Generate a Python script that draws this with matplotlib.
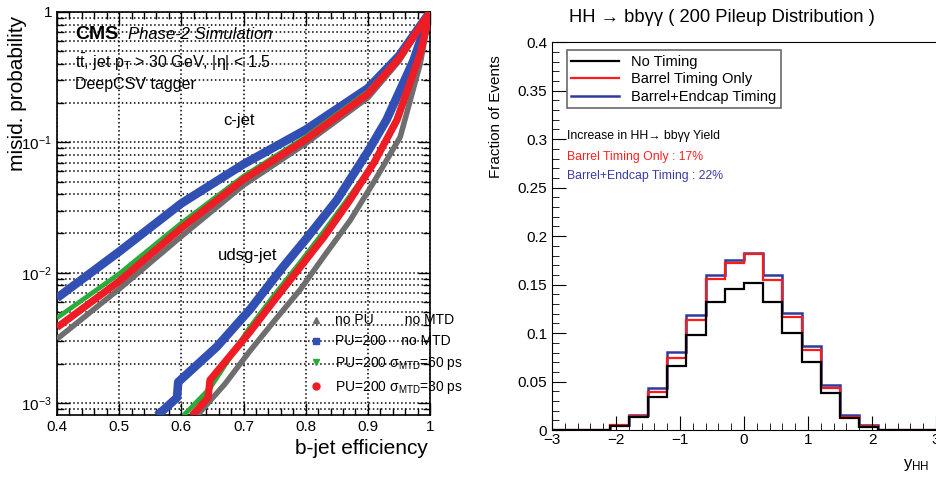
import matplotlib
matplotlib.use("Agg")
import matplotlib.pyplot as plt
from matplotlib.lines import Line2D
from matplotlib.ticker import FuncFormatter, MultipleLocator, LogLocator, NullFormatter
import numpy as np

# ---- left panel: misid probability vs b-jet efficiency ----
series_names = ["no PU", "PU=200", "PU=200 60ps", "PU=200 30ps"]
series_colors = ["#6e6e6e", "#3250b4", "#2aac3a", "#ee1c24"]

# c-jet curves
c_eff = {
    "no PU":       [0.40, 0.50, 0.60, 0.70, 0.80, 0.90, 0.95, 1.00],
    "PU=200":      [0.40, 0.50, 0.60, 0.70, 0.80, 0.90, 0.95, 1.00],
    "PU=200 60ps": [0.40, 0.50, 0.60, 0.70, 0.80, 0.90, 0.95, 1.00],
    "PU=200 30ps": [0.40, 0.50, 0.60, 0.70, 0.80, 0.90, 0.95, 1.00],
}
c_mis = {
    "no PU":       [0.0031, 0.0075, 0.019, 0.047, 0.098, 0.22, 0.42, 1.0],
    "PU=200":      [0.0064, 0.0145, 0.034, 0.068, 0.125, 0.26, 0.46, 1.0],
    "PU=200 60ps": [0.0045, 0.0098, 0.024, 0.055, 0.110, 0.245, 0.45, 1.0],
    "PU=200 30ps": [0.0038, 0.0086, 0.022, 0.052, 0.105, 0.235, 0.44, 1.0],
}

# udsg-jet curves
l_eff = {
    "no PU":       [0.625, 0.67, 0.71, 0.75, 0.791, 0.83, 0.871, 0.91, 0.952, 0.984, 1.00],
    "PU=200":      [0.561, 0.593, 0.595, 0.657, 0.71, 0.763, 0.80, 0.85, 0.90, 0.93, 0.973, 1.00],
    "PU=200 60ps": [0.603, 0.646, 0.71, 0.75, 0.791, 0.83, 0.866, 0.91, 0.945, 0.984, 1.00],
    "PU=200 30ps": [0.617, 0.643, 0.646, 0.71, 0.75, 0.791, 0.83, 0.871, 0.91, 0.947, 0.984, 1.00],
}
l_mis = {
    "no PU":       [0.0008, 0.0014, 0.0025, 0.0043, 0.0074, 0.0135, 0.025, 0.050, 0.11, 0.40, 1.0],
    "PU=200":      [0.0008, 0.0011, 0.00145, 0.0027, 0.0052, 0.011, 0.018, 0.036, 0.085, 0.149, 0.42, 1.0],
    "PU=200 60ps": [0.0008, 0.0013, 0.0038, 0.0068, 0.012, 0.021, 0.036, 0.070, 0.15, 0.48, 1.0],
    "PU=200 30ps": [0.0008, 0.0011, 0.0015, 0.0035, 0.0062, 0.011, 0.019, 0.036, 0.070, 0.149, 0.48, 1.0],
}
line_widths = [4.0, 6.2, 3.4, 5.2]

# ---- right panel: y_HH distribution ----
bin_edges = np.linspace(-3, 3, 21)
no_timing = [0, 0, 0, 0.004, 0.014, 0.034, 0.066, 0.098, 0.132, 0.145,
             0.152, 0.132, 0.0997, 0.0705, 0.038, 0.013, 0.003, 0, 0, 0]
barrel = [0, 0, 0, 0.005, 0.015, 0.0395, 0.0746, 0.114, 0.1557, 0.172,
          0.182, 0.155, 0.117, 0.0825, 0.043, 0.014, 0.004, 0, 0, 0]
barrel_endcap = [0, 0, 0, 0.005, 0.016, 0.0436, 0.0808, 0.119, 0.160, 0.175,
                 0.183, 0.160, 0.121, 0.0866, 0.047, 0.016, 0.005, 0, 0, 0]

plt.rcParams['font.family'] = ['Liberation Sans', 'DejaVu Sans']
plt.rcParams['mathtext.fontset'] = 'custom'
plt.rcParams['mathtext.rm'] = 'Liberation Sans'
plt.rcParams['mathtext.it'] = 'Liberation Sans:italic'
fig = plt.figure(figsize=(9.37, 4.79), dpi=100)

ax = fig.add_axes([0.0608, 0.1336, 0.3982, 0.8414])
for name, col, lw in zip(series_names, series_colors, line_widths):
    ax.plot(c_eff[name], c_mis[name], color=col, lw=lw, solid_capstyle='butt', zorder=3)
    ax.plot(l_eff[name], l_mis[name], color=col, lw=lw, solid_capstyle='butt', zorder=3)
ax.set_yscale('log')
ax.set_xlim(0.4, 1.0)
ax.set_ylim(0.00081, 1.0)
ax.xaxis.set_major_locator(MultipleLocator(0.1))
ax.xaxis.set_minor_locator(MultipleLocator(0.02))
ax.xaxis.set_major_formatter(FuncFormatter(lambda v, p: "%g" % round(v, 2)))
ax.yaxis.set_major_locator(LogLocator(base=10, numticks=10))
ax.yaxis.set_minor_locator(LogLocator(base=10, subs=np.arange(2, 10), numticks=20))
ax.yaxis.set_minor_formatter(NullFormatter())
ax.yaxis.set_major_formatter(FuncFormatter(
    lambda v, p: "1" if abs(v - 1) < 1e-9 else r"$10^{%d}$" % int(round(np.log10(v)))))
ax.tick_params(which='both', direction='in', top=True, right=True, labelsize=11)
ax.tick_params(which='major', length=9, width=1)
ax.tick_params(which='minor', length=5, width=1)
ax.xaxis.grid(True, which='major', ls=':', color='k', lw=1.1)
ax.yaxis.grid(True, which='both', ls=':', color='k', lw=1.1)
ax.set_axisbelow(True)
for s in ax.spines.values():
    s.set_linewidth(1.2)
ax.set_xlabel("b-jet efficiency", fontsize=15, loc='right')
ax.xaxis.set_label_coords(0.995, -0.06)
ax.set_ylabel("misid. probability", fontsize=15, loc='top')
ax.yaxis.set_label_coords(-0.08, 0.99)

ax.text(0.048, 0.945, "CMS", transform=ax.transAxes, fontsize=14, fontweight='bold', va='center')
ax.text(0.19, 0.945, "Phase-2 Simulation", transform=ax.transAxes, fontsize=12,
        style='italic', va='center')
ax.text(0.048, 0.875, "t$\\bar{\\rm t}$, jet p$_{\\rm T}$ > 30 GeV, |\u03b7| < 1.5",
        transform=ax.transAxes, fontsize=11.5, va='center')
ax.text(0.048, 0.82, "DeepCSV tagger", transform=ax.transAxes, fontsize=11.5, va='center')
ax.text(0.445, 0.73, "c-jet", transform=ax.transAxes, fontsize=12, va='center')
ax.text(0.43, 0.395, "udsg-jet", transform=ax.transAxes, fontsize=12, va='center')

markers = ['^', 's', 'v', 'o']
labels = ["no PU        no MTD", "PU=200    no MTD",
          "PU=200 \u03c3$_{\\rm MTD}$=60 ps", "PU=200 \u03c3$_{\\rm MTD}$=30 ps"]
handles = [Line2D([], [], ls='none', marker=m, color=c, markersize=5)
           for m, c in zip(markers, series_colors)]
leg = ax.legend(handles, labels, loc='upper left', bbox_to_anchor=(0.675, 0.252),
                frameon=False, fontsize=10, handletextpad=0.9, handlelength=1.0,
                labelspacing=0.5, borderaxespad=0, borderpad=0)
leg.set_zorder(5)

# right panel
ax2 = fig.add_axes([0.589, 0.102, 0.41, 0.810])
ax2.stairs(barrel_endcap, bin_edges, color='#2e3a9c', lw=1.8, label="Barrel+Endcap Timing")
ax2.stairs(barrel, bin_edges, color='#ff1a1a', lw=1.6, label="Barrel Timing Only")
ax2.stairs(no_timing, bin_edges, color='black', lw=1.6, label="No Timing")
ax2.set_xlim(-3, 3)
ax2.set_ylim(0, 0.4)
ax2.xaxis.set_major_locator(MultipleLocator(1))
ax2.xaxis.set_minor_locator(MultipleLocator(0.2))
ax2.yaxis.set_major_locator(MultipleLocator(0.05))
ax2.yaxis.set_minor_locator(MultipleLocator(0.01))
ax2.yaxis.set_major_formatter(FuncFormatter(lambda v, p: "%g" % round(v, 3)))
ax2.tick_params(which='both', direction='in', labelsize=11)
ax2.tick_params(which='major', length=10)
ax2.tick_params(which='minor', length=5)
ax2.tick_params(axis='x', pad=2)
ax2.spines['right'].set_visible(False)
ax2.set_ylabel("Fraction of Events", fontsize=11, loc='top')
ax2.yaxis.set_label_coords(-0.127, 0.966)
ax2.set_xlabel("y$_{\\rm HH}$", fontsize=12, loc='right')
ax2.xaxis.set_label_coords(0.982, -0.07)
h, l = ax2.get_legend_handles_labels()
leg2 = ax2.legend(h[::-1], l[::-1], loc='upper left', bbox_to_anchor=(0.039, 0.979),
                  borderaxespad=0, fancybox=False, edgecolor='#444444', fontsize=10.5,
                  handlelength=3.3, labelspacing=0.25, borderpad=0.3)
leg2.get_frame().set_linewidth(1.2)
ax2.text(0.039, 0.303, "Increase in HH\u2192 bb\u03b3\u03b3 Yield",
         transform=ax2.get_yaxis_transform(), fontsize=8.8, va='center')
ax2.text(0.039, 0.282, "Barrel Timing Only : 17%", color='#ff2020',
         transform=ax2.get_yaxis_transform(), fontsize=8.8, va='center')
ax2.text(0.039, 0.262, "Barrel+Endcap Timing : 22%", color='#3a3aa8',
         transform=ax2.get_yaxis_transform(), fontsize=8.8, va='center')

fig.text(0.770, 0.963, "HH \u2192 bb\u03b3\u03b3 ( 200 Pileup Distribution )",
         ha='center', va='center', fontsize=13.2)

fig.savefig("out.png", dpi=100)
